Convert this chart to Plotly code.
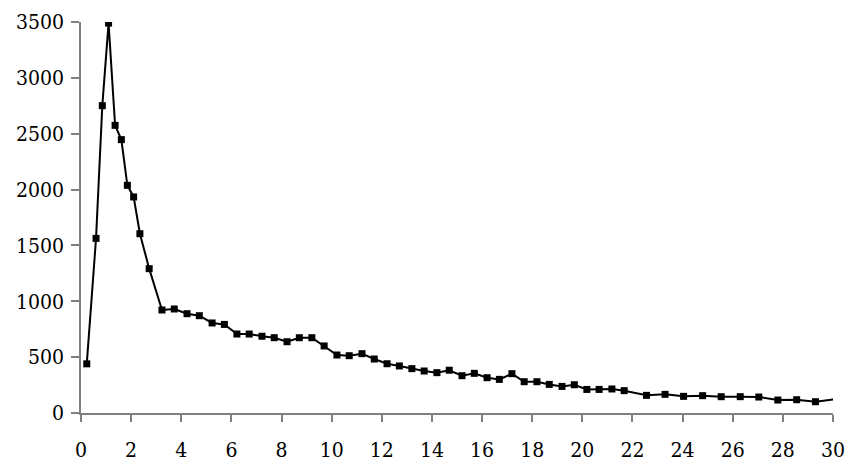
import plotly.graph_objects as go

time = [0.23, 0.6, 0.85, 1.1, 1.36, 1.61, 1.85, 2.1, 2.35, 2.72, 3.23, 3.72, 4.23, 4.72,
        5.23, 5.72, 6.22, 6.71, 7.22, 7.71, 8.22, 8.71, 9.21, 9.70, 10.21, 10.70, 11.21,
        11.70, 12.21, 12.70, 13.20, 13.69, 14.20, 14.69, 15.20, 15.69, 16.20, 16.69,
        17.19, 17.68, 18.19, 18.68, 19.19, 19.68, 20.18, 20.67, 21.18, 21.67, 22.56,
        23.30, 24.04, 24.80, 25.54, 26.30, 27.04, 27.80, 28.55, 29.30, 30.80]
values = [440, 1563, 2751, 3490, 2575, 2447, 2038, 1934, 1605, 1292, 922, 931, 889, 871,
          806, 793, 707, 707, 687, 674, 638, 674, 674, 600, 519, 513, 531,
          483, 441, 421, 397, 376, 361, 383, 334, 355, 316, 301,
          352, 280, 280, 256, 238, 253, 211, 211, 215, 200, 158,
          167, 149, 155, 146, 146, 143, 116, 119, 101, 143]
x_ticks = list(range(0, 31, 2))
y_ticks = list(range(0, 3501, 500))

SERIF = "DejaVu Serif Condensed, DejaVu Serif"

fig = go.Figure()
fig.add_trace(go.Scatter(
    x=time, y=values, mode="lines+markers",
    line=dict(color="black", width=2),
    marker=dict(symbol="square", size=7, color="black"),
    showlegend=False,
))

axis_common = dict(
    showgrid=False, zeroline=False, showline=True, automargin=False,
    linecolor="#808080", linewidth=1.5,
    ticks="outside", tickcolor="#808080", tickwidth=1.5,
    tickfont=dict(family=SERIF, size=21, color="black"),
)

fig.update_layout(
    width=848, height=462,
    margin=dict(l=81, r=15, t=22, b=49),
    paper_bgcolor="white", plot_bgcolor="white",
    font=dict(family=SERIF),
    xaxis=dict(range=[0, 30], tickvals=x_ticks, ticklen=7, ticklabelstandoff=10, **axis_common),
    yaxis=dict(range=[0, 3500], tickvals=y_ticks, ticklen=8, ticklabelstandoff=3, **axis_common),
)

fig.write_html("out.html")
